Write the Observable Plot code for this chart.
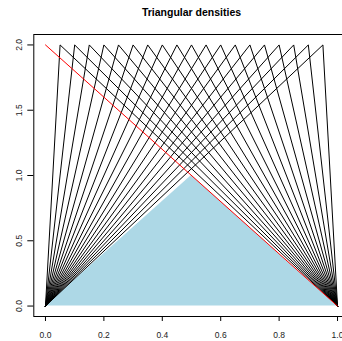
<!DOCTYPE html>
<html>
<head>
<meta charset="utf-8">
<script src="https://cdn.jsdelivr.net/npm/d3@7"></script>
<script src="https://cdn.jsdelivr.net/npm/@observablehq/plot@0.6"></script>
<style>
  html, body { margin: 0; padding: 0; background: #fff; overflow: hidden; }
  #chart svg { display: block; font-family: "Liberation Sans", Arial, sans-serif; }
</style>
</head>
<body>
<div id="chart"></div>
<script>
// Modes of the black triangular densities on [0, 1]
const modes = [0.05, 0.10, 0.15, 0.20, 0.25, 0.30, 0.35, 0.40, 0.45, 0.50,
               0.55, 0.60, 0.65, 0.70, 0.75, 0.80, 0.85, 0.90, 0.95];
const peakHeight = 2;          // height of each triangle at its mode
const support = [0, 1];        // lower and upper bound
// Red line: triangle with mode 0
const redX = [0, 1];
const redY = [2, 0];
// Light blue filled triangle
const blueX = [0, 0.5, 1];
const blueY = [0, 1, 0];
// Tick labels
const xTicks = [0, 0.2, 0.4, 0.6, 0.8, 1.0];
const yTicks = [0, 0.5, 1.0, 1.5, 2.0];
const title = "Triangular densities";

const triRows = modes.flatMap(c => [
  {m: c, x: support[0], y: 0},
  {m: c, x: c, y: peakHeight},
  {m: c, x: support[1], y: 0}
]);
const redRows = redX.map((x, i) => ({x, y: redY[i]}));
const blueRows = blueX.map((x, i) => ({x, y: blueY[i]}));

const chart = Plot.plot({
  width: 342,
  height: 341,
  marginTop: 34,
  marginBottom: 25,
  marginLeft: 33.3,
  marginRight: -6.7,
  style: {fontFamily: "Liberation Sans, Arial, sans-serif", background: "#fff", color: "#000"},
  x: {domain: [-0.04, 1.04]},
  y: {domain: [-0.08, 2.08]},
  marks: [
    Plot.areaY(blueRows, {x: "x", y: "y", fill: "#ADD8E6", curve: "linear"}),
    Plot.line(triRows, {x: "x", y: "y", z: "m", stroke: "#000", strokeWidth: 1}),
    Plot.line(redRows, {x: "x", y: "y", stroke: "#ff0000", strokeWidth: 1}),
    Plot.frame({stroke: "#000", strokeWidth: 1}),
    Plot.axisX({ticks: xTicks, tickFormat: d => d.toFixed(1), tickSize: 5, tickPadding: 10,
                fontSize: 8.5, label: null, stroke: "#000", fill: "#222"}),
    Plot.axisY({ticks: yTicks, tickFormat: d => d.toFixed(1), tickSize: 6, tickPadding: 6,
                tickRotate: -90, textAnchor: "middle", lineAnchor: "bottom",
                fontSize: 8.5, label: null, stroke: "#000", fill: "#222"}),
    Plot.text([title], {frameAnchor: "top", lineAnchor: "bottom", dy: -19,
                        fontSize: 10.5, fontWeight: "bold", fill: "#000"})
  ]
});
document.getElementById("chart").appendChild(chart);
</script>
</body>
</html>
